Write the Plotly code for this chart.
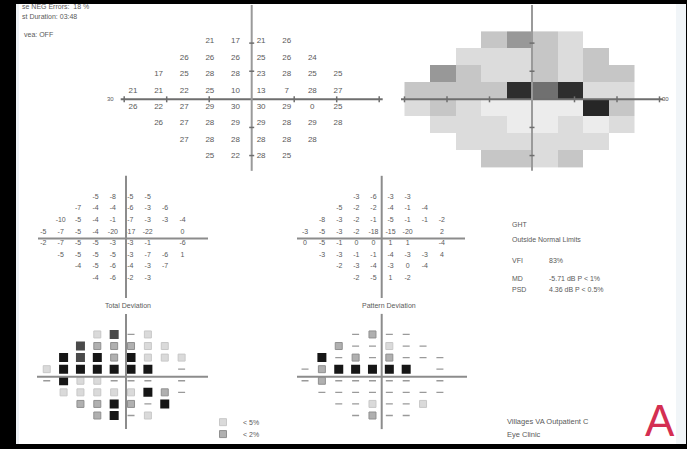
import plotly.graph_objects as go

W, H = 687, 449

# 24-2 test grid: rows (degrees, superior positive) and the columns tested in each row
ROW_Y = [21, 15, 9, 3, -3, -9, -15, -21]
ROW_X = {
    21: [-9, -3, 3, 9],
    15: [-15, -9, -3, 3, 9, 15],
    9: [-21, -15, -9, -3, 3, 9, 15, 21],
    3: [-27, -21, -15, -9, -3, 3, 9, 15, 21],
    -3: [-27, -21, -15, -9, -3, 3, 9, 15, 21],
    -9: [-21, -15, -9, -3, 3, 9, 15, 21],
    -15: [-15, -9, -3, 3, 9, 15],
    -21: [-9, -3, 3, 9],
}

# Threshold sensitivity (dB), one list per row from top to bottom
THRESHOLD = [
    [21, 17, 21, 26],
    [26, 26, 26, 25, 26, 24],
    [17, 25, 28, 28, 23, 28, 25, 25],
    [21, 21, 22, 25, 10, 13, 7, 28, 27],
    [26, 22, 27, 29, 30, 30, 29, 0, 25],
    [26, 27, 28, 29, 29, 28, 29, 28],
    [27, 28, 28, 28, 28, 28],
    [25, 22, 28, 25],
]

# Total deviation (dB); None marks the two blind-spot locations
TOTAL_DEV = [
    [-5, -8, -5, -5],
    [-7, -4, -4, -6, -3, -6],
    [-10, -5, -4, -1, -7, -3, -3, -4],
    [-5, -7, -5, -4, -20, -17, -22, None, 0],
    [-2, -7, -5, -5, -3, -3, -1, None, -6],
    [-5, -5, -5, -5, -3, -7, -6, 1],
    [-4, -5, -6, -4, -3, -7],
    [-4, -6, -2, -3],
]

# Pattern deviation (dB)
PATTERN_DEV = [
    [-3, -6, -3, -3],
    [-5, -2, -2, -4, -1, -4],
    [-8, -3, -2, -1, -5, -1, -1, -2],
    [-3, -5, -3, -2, -18, -15, -20, None, 2],
    [0, -5, -1, 0, 0, 1, 1, None, -4],
    [-3, -3, -1, -1, -4, -3, -3, 4],
    [-2, -3, -4, -3, 0, -4],
    [-2, -5, 1, -2],
]

# Probability levels: "n" within normal limits, otherwise P < value (%)
TD_PROB = [
    ["5", "1", "n", "5"],
    ["1", "2", "2", "2", "5", "5"],
    ["0.5", "1", "0.5", "2", "0.5", "5", "5", "5"],
    ["5", "0.5", "0.5", "0.5", "0.5", "0.5", "0.5", None, "n"],
    ["n", "0.5", "5", "5", "n", "n", "n", None, "n"],
    ["5", "5", "5", "5", "5", "0.5", "2", "n"],
    ["2", "2", "0.5", "2", "n", "0.5"],
    ["2", "0.5", "n", "5"],
]
PD_PROB = [
    ["n", "2", "n", "n"],
    ["2", "n", "n", "5", "n", "n"],
    ["0.5", "n", "2", "n", "2", "n", "n", "n"],
    ["n", "2", "0.5", "0.5", "0.5", "0.5", "0.5", None, "n"],
    ["n", "2", "n", "n", "n", "n", "n", None, "n"],
    ["n", "n", "n", "n", "n", "n", "n", "n"],
    ["n", "n", "5", "n", "n", "5"],
    ["n", "2", "n", "n"],
]
PROB_LEVELS = ["n", "5", "2", "1", "0.5"]
PROB_NAMES = {"5": "< 5%", "2": "< 2%", "1": "< 1%", "0.5": "< 0.5%"}

# Global indices
VFI = "83%"
MD = "-5.71 dB P < 1%"
PSD = "4.36 dB P < 0.5%"
GHT = "Outside Normal Limits"

FONT = "Liberation Sans"
TEXT_GRAY = "#5a5a5a"


def points(grid):
    xs, ys, vs = [], [], []
    for y, row in zip(ROW_Y, grid):
        for x, v in zip(ROW_X[y], row):
            if v is not None:
                xs.append(x)
                ys.append(y)
                vs.append(v)
    return xs, ys, vs


fig = go.Figure()
layout_axes = {}


def make_axes(n, cx, sx, cy, sy, xr=35, yr=30):
    """Axis pair n centred at pixel (cx, cy) with sx, sy pixels per degree."""
    sfx = "" if n == 1 else str(n)
    layout_axes["xaxis" + sfx] = dict(
        domain=[(cx - xr * sx) / W, (cx + xr * sx) / W], range=[-xr, xr],
        visible=False, fixedrange=True, anchor="y" + sfx)
    layout_axes["yaxis" + sfx] = dict(
        domain=[1 - (cy + yr * sy) / H, 1 - (cy - yr * sy) / H], range=[-yr, yr],
        visible=False, fixedrange=True, anchor="x" + sfx)
    return "x" + sfx, "y" + sfx


ax_thr = make_axes(1, 248.3, 4.27, 99.5, 2.75)
ax_gray = make_axes(2, 532, 4.25, 100, 2.85)
ax_td = make_axes(3, 121.6, 2.9, 239.2, 1.945)
ax_pd = make_axes(4, 382, 2.85, 239.2, 1.945)
ax_tdp = make_axes(5, 122.6, 2.81, 377.5, 1.943)
ax_pdp = make_axes(6, 380.9, 2.81, 377.5, 1.943)


def add_numbers(grid, axes, size):
    xs, ys, vs = points(grid)
    fig.add_trace(go.Scatter(
        x=xs, y=ys, text=[str(v) for v in vs], mode="text",
        textfont=dict(family=FONT, size=size, color=TEXT_GRAY),
        xaxis=axes[0], yaxis=axes[1], showlegend=False, hoverinfo="skip"))


add_numbers(THRESHOLD, ax_thr, 8)
add_numbers(TOTAL_DEV, ax_td, 7)
add_numbers(PATTERN_DEV, ax_pd, 7)

# Grayscale of threshold values, one 6x6 degree cell per test location
COLS = [-27, -21, -15, -9, -3, 3, 9, 15, 21]
ROWS = sorted(ROW_Y)
z = [[None] * len(COLS) for _ in ROWS]
for y, row in zip(ROW_Y, THRESHOLD):
    for x, v in zip(ROW_X[y], row):
        z[ROWS.index(y)][COLS.index(x)] = v

bands = [(5.5, "#262626"), (10.5, "#2e2e2e"), (15.5, "#707070"), (20.5, "#989898"),
         (25.5, "#c6c6c6"), (28.5, "#dcdcdc"), (35, "#ececec")]
zmax = 35.0
scale, lo = [], 0.0
for hi, c in bands:
    scale.append([lo / zmax, c])
    scale.append([hi / zmax, c])
    lo = hi
fig.add_trace(go.Heatmap(
    x=COLS, y=ROWS, z=z, zmin=0, zmax=zmax, colorscale=scale, showscale=False,
    xaxis=ax_gray[0], yaxis=ax_gray[1], hoverinfo="skip"))

# Probability symbol plots
PROB_STYLE = {
    "n": dict(symbol="line-ew-open", size=5, color="#9a9a9a", line=dict(color="#a0a0a0", width=1.3)),
    "5": dict(symbol="square", size=7, color="#dadada", line=dict(color="#c8c8c8", width=1)),
    "2": dict(symbol="square", size=7, color="#b0b0b0", line=dict(color="#909090", width=1)),
    "1": dict(symbol="square", size=9, color="#4a4a4a", line=dict(width=0)),
    "0.5": dict(symbol="square", size=9, color="#161616", line=dict(width=0)),
}


def add_prob(grid, axes, with_legend):
    xs, ys, vs = points(grid)
    for lvl in PROB_LEVELS:
        sel = [i for i, v in enumerate(vs) if v == lvl]
        legend_key = {"5": "legend", "2": "legend2"}.get(lvl)
        fig.add_trace(go.Scatter(
            x=[xs[i] for i in sel], y=[ys[i] for i in sel], mode="markers",
            marker=PROB_STYLE[lvl], name=PROB_NAMES.get(lvl, ""),
            showlegend=bool(with_legend and legend_key),
            legend=legend_key or "legend",
            xaxis=axes[0], yaxis=axes[1], hoverinfo="skip"))


add_prob(TD_PROB, ax_tdp, True)
add_prob(PD_PROB, ax_pdp, False)

# Page, axis cross-hairs and ticks
shapes = [
    dict(type="rect", xref="paper", yref="paper", x0=16 / W, x1=686 / W, y0=1 - 447 / H, y1=1 - 4 / H,
         fillcolor="white", line=dict(width=0), layer="below"),
    dict(type="rect", xref="paper", yref="paper", x0=676 / W, x1=686 / W, y0=1 - 447 / H, y1=1 - 4 / H,
         fillcolor="#f1f5f8", line=dict(width=0), layer="below"),
    dict(type="rect", xref="paper", yref="paper", x0=16 / W, x1=19 / W, y0=1 - 447 / H, y1=1 - 4 / H,
         fillcolor="#eef2f5", line=dict(width=0), layer="below"),
]


def hline(x0, x1, y, color="#8c8c8c", w=2):
    shapes.append(dict(type="line", xref="paper", yref="paper", x0=x0 / W, x1=x1 / W,
                       y0=1 - y / H, y1=1 - y / H, line=dict(color=color, width=w)))


def vline(x, y0, y1, color="#8c8c8c", w=2):
    shapes.append(dict(type="line", xref="paper", yref="paper", x0=x / W, x1=x / W,
                       y0=1 - y0 / H, y1=1 - y1 / H, line=dict(color=color, width=w)))


for cx in (251.7, 532):
    hline(cx - 131, cx + 131, 100, "#6e6e6e", 2)
    vline(cx, 5, 172, "#9a9a9a", 2)
    for k in (-3, -2, -1, 1, 2, 3):
        vline(cx + 42.5 * k, 97, 103, "#6e6e6e", 1.5)
    for k in (-2, -1, 1, 2):
        hline(cx - 2.5, cx + 2.5, 100 + 28.3 * k, "#6e6e6e", 1.5)

hline(38, 208, 240)
vline(126, 177, 300)
hline(37, 208, 379.3)
vline(126, 316, 432)
hline(297, 465, 240)
vline(381.7, 177, 300)
hline(297, 467, 379.3)
vline(381.7, 316, 432)

annotations = []


def note(text, x, y, size=7, color="#5a5a5a", xanchor="left"):
    annotations.append(dict(text=text, x=x / W, y=1 - y / H, xref="paper", yref="paper",
                            showarrow=False, xanchor=xanchor, yanchor="middle",
                            font=dict(family=FONT, size=size, color=color)))


note("se NEG Errors:  18 %", 20, 7)
note("st Duration: 03:48", 20, 17)
note("vea: OFF", 22, 35)
note("30", 110, 100, 6, xanchor="center")
note("30", 665, 100, 6, xanchor="center")
note("Total Deviation", 128, 308, 7, xanchor="center")
note("Pattern Deviation", 389, 308, 7, xanchor="center")
note("GHT", 510, 226, 7)
note(GHT, 510, 241, 7)
note("VFI", 510, 262, 7)
note(VFI, 547, 262, 7)
note("MD", 510, 280, 7)
note(MD, 547, 280, 7)
note("PSD", 510, 291, 7)
note(PSD, 547, 291, 7)
note("Villages VA Outpatient C", 505, 424, 7.5)
note("Eye Clinic", 505, 437, 7.5)
note("A", 660, 423, 44, color="#d42f52", xanchor="center")

fig.update_layout(
    width=W, height=H, margin=dict(l=0, r=0, t=0, b=0),
    paper_bgcolor="black", plot_bgcolor="rgba(0,0,0,0)",
    shapes=shapes, annotations=annotations,
    legend=dict(x=203 / W, y=1 - 425 / H, xanchor="left", yanchor="middle",
                bgcolor="rgba(0,0,0,0)", font=dict(family=FONT, size=7, color="#5a5a5a")),
    legend2=dict(x=203 / W, y=1 - 437 / H, xanchor="left", yanchor="middle",
                 bgcolor="rgba(0,0,0,0)", font=dict(family=FONT, size=7, color="#5a5a5a")),
    **layout_axes,
)

fig.write_html("out.html")
